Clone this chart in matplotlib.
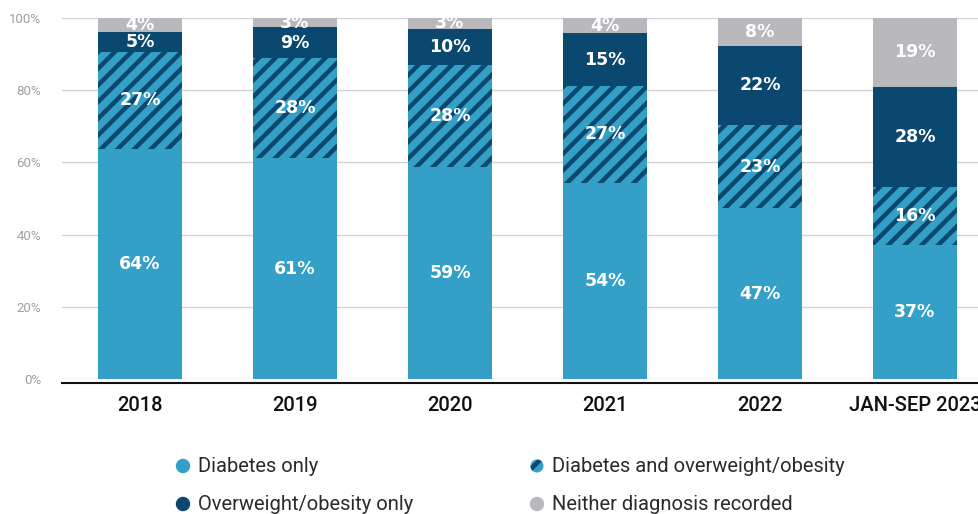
import matplotlib
matplotlib.use("Agg")
from matplotlib import pyplot as plt
from matplotlib import patches as mpatch

years = ["2018", "2019", "2020", "2021", "2022", "JAN-SEP 2023"]
# shares (labels show the rounded value)
diabetes_only = [63.8, 61.2, 58.8, 54.4, 47.3, 37.1]
diabetes_and_ow = [26.8, 27.6, 28.2, 26.8, 23.1, 16.0]
ow_only = [5.4, 8.6, 10.0, 14.6, 21.9, 27.9]
neither = [4.0, 2.6, 3.0, 4.2, 7.7, 19.0]

series_names = ["Diabetes only", "Diabetes and overweight/obesity",
                "Overweight/obesity only", "Neither diagnosis recorded"]

LIGHT = '#349fc7'
NAVY = '#0b4870'
GRAY = '#b9b8bc'

plt.rcParams['font.family'] = ['Roboto', 'DejaVu Sans']
plt.rcParams['hatch.linewidth'] = 3.2
plt.rcParams['hatch.color'] = NAVY

fig = plt.figure(figsize=(9.79, 5.14), dpi=100)
ax = fig.add_axes([62 / 979, 1 - 379 / 514, 1 - 62 / 979, (379 - 18) / 514])

x = list(range(len(years)))
width = 0.542
bottom = [0] * len(years)
layers = [
    (diabetes_only, dict(color=LIGHT)),
    (diabetes_and_ow, dict(facecolor=LIGHT, hatch='//', edgecolor=NAVY, linewidth=0)),
    (ow_only, dict(color=NAVY)),
    (neither, dict(color=GRAY)),
]
for vals, style in layers:
    ax.bar(x, vals, width, bottom=bottom, zorder=2, **style)
    for i, v in enumerate(vals):
        ax.text(x[i], bottom[i] + v / 2, f"{round(v)}%", ha='center', va='center',
                color='white', fontsize=12.5, fontweight='bold',
                family='DejaVu Sans', clip_on=True, zorder=3)
    bottom = [b + v for b, v in zip(bottom, vals)]

ax.set_xlim(-0.503, 5.413)
ax.set_ylim(0, 100)
ax.set_yticks([0, 20, 40, 60, 80, 100])
ax.set_yticklabels([f"{t}%" for t in [0, 20, 40, 60, 80, 100]],
                   color='#a0a0a0', fontsize=9.5)
ax.set_xticks(x)
ax.set_xticklabels(years, fontsize=14.5, fontweight='medium', color='#111111')
ax.tick_params(axis='both', length=0)
ax.tick_params(axis='y', pad=15)
ax.tick_params(axis='x', pad=12)
ax.yaxis.grid(True, color='#d4d4d4', linewidth=1, zorder=0)
ax.set_axisbelow(True)
for s in ax.spines.values():
    s.set_visible(False)
ax.axhline(-1.1, color='#111111', linewidth=1.5, clip_on=False, zorder=4)

# legend drawn by hand in pixel coords
lax = fig.add_axes([0, 0, 1, 1], facecolor='none')
lax.set_xlim(0, 979)
lax.set_ylim(514, 0)
lax.axis('off')
leg_pos = [(183, 466), (537, 466), (183, 504), (537, 504)]
leg_style = [dict(color=LIGHT), dict(facecolor=LIGHT, hatch='/', edgecolor=NAVY, linewidth=0),
             dict(color=NAVY), dict(color=GRAY)]
for (lx, ly), name, st in zip(leg_pos, series_names, leg_style):
    lax.add_patch(mpatch.Circle((lx, ly), 6.5, **st))
    lax.text(lx + 15, ly, name, va='center', ha='left', fontsize=14.5,
             color='#2a2a2a')

fig.savefig('out.png', dpi=100)
